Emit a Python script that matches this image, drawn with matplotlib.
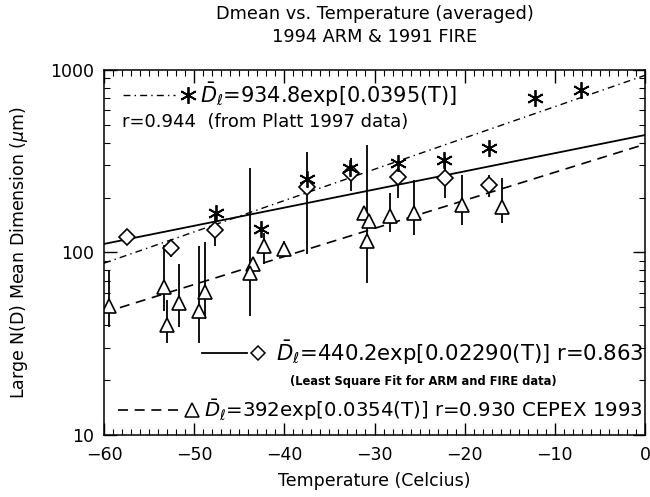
import matplotlib.pyplot as plt
import matplotlib.ticker as ticker
import numpy as np

# Platt 1997 data (asterisks)
platt_temp = [-47.6, -42.6, -37.5, -32.7, -27.4, -22.3, -17.3, -12.2, -7.1]
platt_dmean = [164, 134, 253, 292, 308, 323, 376, 706, 777]

# 1994 ARM & 1991 FIRE (diamonds)
arm_temp = [-57.5, -52.6, -47.7, -37.5, -32.6, -27.4, -22.2, -17.3]
arm_dmean = [121, 106, 133, 228, 272, 260, 255, 234]
arm_low = [114, 95, 108, 98, 216, 200, 198, 202]
arm_high = [128, 117, 160, 355, 330, 290, 335, 266]

# CEPEX 1993 (triangles)
cepex_temp = [-59.5, -53.4, -53.0, -51.7, -49.5, -48.8, -43.5, -43.8, -42.2,
              -40.0, -31.2, -30.6, -30.8, -28.3, -25.6, -20.3, -15.9]
cepex_dmean = [51, 65, 40, 53, 48, 61, 87, 77, 108, 104, 164, 148, 115, 158, 164, 182, 178]
cepex_low = [39, 48, 32, 39, 32, 43, 84, 45, 87, 97, 160, 143, 68, 130, 125, 141, 145]
cepex_high = [80, 110, 55, 87, 108, 114, 90, 290, 128, 115, 168, 153, 388, 212, 250, 266, 256]

# fit coefficients  D = a * exp(b * T)
fit_arm = (440.2, 0.02290)
fit_platt = (934.8, 0.0395)
fit_cepex = (392.0, 0.0354)

plt.rcParams['font.family'] = 'DejaVu Sans'
plt.rcParams['mathtext.fontset'] = 'dejavusans'

W, H = 650, 497
fig = plt.figure(figsize=(W / 100, H / 100), dpi=100)
ax = fig.add_axes([104 / W, 1 - 435 / H, 541 / W, 365 / H])

dashdot = (0, (5, 3, 1, 3))
dashed = (0, (6, 4))

# 拟合线
t = np.linspace(-60, 0, 200)
ax.plot(t, fit_arm[0] * np.exp(fit_arm[1] * t), color='black', lw=1.3)
ax.plot(t, fit_platt[0] * np.exp(fit_platt[1] * t), color='black', lw=1.0, ls=dashdot)
ax.plot(t, fit_cepex[0] * np.exp(fit_cepex[1] * t), color='black', lw=1.2, ls=dashed)

# 误差棒
arm_d = np.array(arm_dmean)
ax.errorbar(arm_temp, arm_d, yerr=[arm_d - np.array(arm_low), np.array(arm_high) - arm_d],
            fmt='none', ecolor='black', elinewidth=1.3, capsize=0)
cep_d = np.array(cepex_dmean)
ax.errorbar(cepex_temp, cep_d, yerr=[cep_d - np.array(cepex_low), np.array(cepex_high) - cep_d],
            fmt='none', ecolor='black', elinewidth=1.3, capsize=0)

# 数据点
ax.plot(cepex_temp, cepex_dmean, ls='none', marker='^', ms=10, mfc='white',
        mec='black', mew=1.2)
ax.plot(arm_temp, arm_dmean, ls='none', marker='D', ms=8, mfc='white',
        mec='black', mew=1.2)
ax.plot(platt_temp, platt_dmean, ls='none', marker=(6, 2, 0), ms=12,
        mec='black', mew=1.3)

# 坐标轴
ax.set_yscale('log')
ax.set_xlim(-60, 0)
ax.set_ylim(10, 1000)
ax.set_xticks(np.arange(-60, 1, 10))
ax.xaxis.set_minor_locator(ticker.MultipleLocator(1))
ax.set_yticks([10, 100, 1000])
ax.yaxis.set_major_formatter(ticker.FormatStrFormatter('%d'))
ax.yaxis.set_minor_formatter(ticker.NullFormatter())
ax.tick_params(which='both', direction='in', top=True, right=True, labelsize=12.5)
ax.tick_params(which='major', length=9, width=1)
ax.tick_params(which='minor', length=4.5, width=0.8)
ax.tick_params(axis='x', pad=8)
ax.tick_params(axis='y', pad=7)
for s in ax.spines.values():
    s.set_linewidth(1.1)

ax.set_xlabel('Temperature (Celcius)', fontsize=12.5)
ax.xaxis.set_label_coords(0.5, -0.100)
ax.set_ylabel(r'Large N(D) Mean Dimension ($\mu$m)', fontsize=12.5)
ax.yaxis.set_label_coords(-0.137, 0.5)

fig.text(374.5 / W, 1 - 14 / H, 'Dmean vs. Temperature (averaged)', ha='center',
         va='center', fontsize=12.8)
fig.text(374.5 / W, 1 - 37 / H, '1994 ARM & 1991 FIRE', ha='center',
         va='center', fontsize=12.8)

# 图注（轴坐标）
def fx(px):
    return (px - 104) / 541.0

def fy(py):
    return (435 - py) / 365.0

tr = ax.transAxes
# Platt
ax.plot([fx(123), fx(175)], [fy(95), fy(95)], transform=tr, color='black', lw=1.0, ls=dashdot)
ax.plot([fx(188)], [fy(95)], transform=tr, ls='none', marker=(6, 2, 0), ms=12, mec='black', mew=1.3)
ax.text(fx(200), fy(95), r'$\bar{D}_\ell$=934.8exp[0.0395(T)]', transform=tr,
        ha='left', va='center', fontsize=15)
ax.text(fx(122), fy(122), 'r=0.944  (from Platt 1997 data)', transform=tr,
        ha='left', va='center', fontsize=13)
# ARM & FIRE
ax.plot([fx(202), fx(247)], [fy(353), fy(353)], transform=tr, color='black', lw=1.3)
ax.plot([fx(258)], [fy(353)], transform=tr, ls='none', marker='D', ms=7, mfc='white', mec='black', mew=1.1)
ax.text(fx(643), fy(353), r'$\bar{D}_\ell$=440.2exp[0.02290(T)] r=0.863', transform=tr,
        ha='right', va='center', fontsize=15.3)
ax.text(fx(423), fy(382), '(Least Square Fit for ARM and FIRE data)', transform=tr,
        ha='center', va='center', fontsize=8.3, fontweight='bold')
# CEPEX
ax.plot([fx(118), fx(180)], [fy(410), fy(410)], transform=tr, color='black', lw=1.2, ls=dashed)
ax.plot([fx(192)], [fy(410)], transform=tr, ls='none', marker='^', ms=10, mfc='white', mec='black', mew=1.1)
ax.text(fx(643), fy(410), r'$\bar{D}_\ell$=392exp[0.0354(T)] r=0.930 CEPEX 1993', transform=tr,
        ha='right', va='center', fontsize=14.2)

fig.savefig('out.png', dpi=100)
